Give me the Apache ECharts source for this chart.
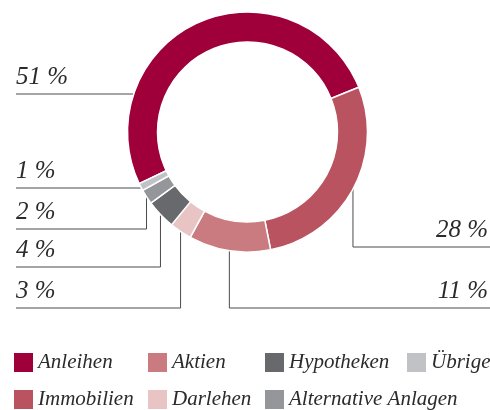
<!DOCTYPE html>
<html><head><meta charset="utf-8">
<script src="https://cdn.jsdelivr.net/npm/echarts@6/dist/echarts.min.js"></script>
<style>html,body{margin:0;padding:0;background:#fff}#c{width:490px;height:410px}</style>
</head><body><div id="c"></div>
<script>
// ---- data ----
const categories = ['Anleihen', 'Immobilien', 'Aktien', 'Darlehen', 'Hypotheken', 'Alternative Anlagen', 'Übrige'];
const shares = [51, 28, 11, 3, 4, 2, 1];
const legendColumns = [['Anleihen', 'Immobilien'], ['Aktien', 'Darlehen'], ['Hypotheken', 'Alternative Anlagen'], ['Übrige']];

// ---- layout & style ----
const colors = ['#a0003a', '#b9535f', '#c97b7f', '#e9c4c4', '#68696d', '#95969a', '#c1c2c6'];
const CX = 247.5, CY = 132, R = 120, R0 = 90;
const START = 205.5; // echarts startAngle
const legendX = [14, 148, 265, 407];
const labelRows = [
  { y: 94, side: 'left', mode: 'h' },
  { y: 247, side: 'right', mode: 'v' },
  { y: 308, side: 'right', mode: 'v' },
  { y: 308, side: 'left', mode: 'v' },
  { y: 267, side: 'left', mode: 'v' },
  { y: 229, side: 'left', mode: 'v' },
  { y: 188, side: 'left', mode: 'h' }
];
const FONT = 'Liberation Serif';
const total = shares.reduce((a, b) => a + b, 0);

function sliceSpan(i) {
  const base = 90 - START; // clockwise from 12 o'clock
  let cum = 0;
  for (let k = 0; k < i; k++) cum += shares[k];
  const a0 = base + cum / total * 360;
  const a1 = a0 + shares[i] / total * 360;
  return [a0, a1];
}

function labelLayout(params) {
  const i = params.dataIndex;
  const row = labelRows[i];
  const left = row.side === 'left';
  const endX = left ? 16 : 490;
  let pts;
  if (row.mode === 'h') {
    const dy = row.y - CY;
    const dx = Math.sqrt(R * R - dy * dy);
    const x = left ? CX - dx : CX + dx;
    pts = [[x, row.y], [endX, row.y]];
  } else {
    const [a0, a1] = sliceSpan(i);
    const mid = (a0 + a1) / 2 * Math.PI / 180;
    const px = CX + R * Math.sin(mid);
    const py = CY - R * Math.cos(mid);
    pts = [[px, py], [px, row.y], [endX, row.y]];
  }
  return {
    x: left ? 16 : 488,
    y: row.y - 4,
    align: left ? 'left' : 'right',
    verticalAlign: 'bottom',
    labelLinePoints: pts
  };
}

const chart = echarts.init(document.getElementById('c'), null, { renderer: 'canvas' });
chart.setOption({
  animation: false,
  color: colors,
  legend: legendColumns.map((col, k) => ({
    data: col,
    orient: 'vertical',
    left: legendX[k],
    top: 352,
    padding: 0,
    itemWidth: 19,
    itemHeight: 19,
    itemGap: 16,
    icon: 'rect',
    selectedMode: false,
    itemStyle: { borderWidth: 0 },
    textStyle: { fontFamily: FONT, fontStyle: 'italic', fontSize: 21, color: '#2b2b2b', lineHeight: 19 }
  })),
  series: [{
    type: 'pie',
    center: [CX, CY],
    radius: [R0, R],
    startAngle: START,
    clockwise: true,
    avoidLabelOverlap: false,
    silent: true,
    data: categories.map((n, i) => ({ name: n, value: shares[i] })),
    itemStyle: { borderColor: '#fff', borderWidth: 1.5 },
    emphasis: { disabled: true },
    label: {
      show: true,
      position: 'outside',
      formatter: '{c} %',
      fontFamily: FONT,
      fontStyle: 'italic',
      fontSize: 25,
      lineHeight: 25,
      color: '#2b2b2b'
    },
    labelLine: { show: true, length: 10, length2: 10, smooth: false, lineStyle: { color: '#4a4a4a', width: 1 } },
    labelLayout: labelLayout
  }]
});
</script>
</body></html>
